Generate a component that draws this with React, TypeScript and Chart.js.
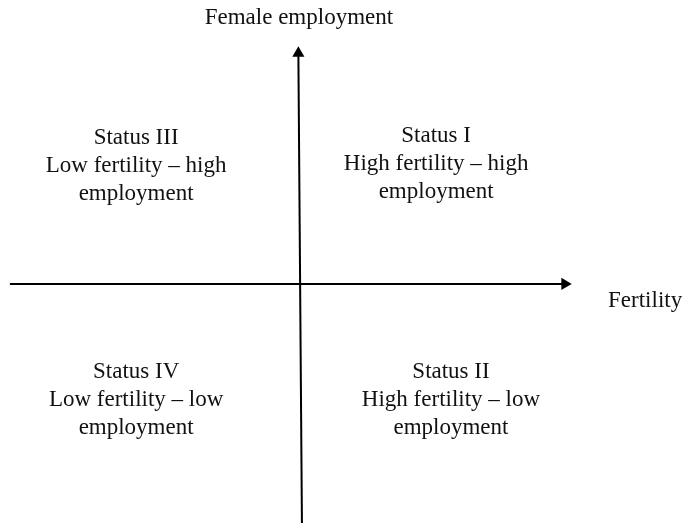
import React, { useEffect, useRef } from "react";
import { Chart, registerables } from "chart.js";

Chart.register(...registerables);

// Axis arrows (conceptual units: crossing at 0,0)
const horizontalAxis = [
  { x: -1.055, y: 0 },
  { x: 0.963, y: 0 },
];
const verticalAxis = [
  { x: 0.007, y: -1.02 },
  { x: -0.006, y: 0.977 },
];

// Quadrant labels
const quadrantLines: string[][] = [
  ["Status I", "High fertility \u2013 high", "employment"],
  ["Status II", "High fertility \u2013 low", "employment"],
  ["Status III", "Low fertility \u2013 high", "employment"],
  ["Status IV", "Low fertility \u2013 low", "employment"],
];
const quadrantX = [0.495, 0.549, -0.596, -0.596];
const quadrantY = [0.51, -0.49, 0.5, -0.49];

const axisLabels = ["Female employment", "Fertility"];
const axisLabelX = [-0.004, 1.255];
const axisLabelY = [1.128, -0.074];

const FONT = '23px "Liberation Serif", "Times New Roman", serif';
const LINE_H = 28;

const textPlugin = {
  id: "diagramText",
  afterDatasetsDraw(chart: any) {
    const { ctx, scales } = chart;
    const xs = scales.x;
    const ys = scales.y;
    ctx.save();
    ctx.font = FONT;
    ctx.fillStyle = "#111";
    ctx.textAlign = "center";
    ctx.textBaseline = "middle";
    quadrantLines.forEach((lines, i) => {
      const cx = xs.getPixelForValue(quadrantX[i]);
      const cy = ys.getPixelForValue(quadrantY[i]);
      lines.forEach((t, j) => {
        ctx.fillText(t, cx, cy + (j - 1) * LINE_H);
      });
    });
    axisLabels.forEach((t, i) => {
      ctx.fillText(t, xs.getPixelForValue(axisLabelX[i]), ys.getPixelForValue(axisLabelY[i]));
    });
    ctx.restore();
  },
};

export default function App() {
  const ref = useRef<HTMLCanvasElement | null>(null);
  useEffect(() => {
    if (!ref.current) return;
    const chart = new Chart(ref.current, {
      type: "scatter",
      data: {
        datasets: [
          {
            data: horizontalAxis,
            showLine: true,
            borderColor: "#000",
            backgroundColor: "#000",
            borderWidth: 2,
            pointRadius: [0, 5],
            pointStyle: "triangle",
            rotation: 90,
            clip: false,
          },
          {
            data: verticalAxis,
            showLine: true,
            borderColor: "#000",
            backgroundColor: "#000",
            borderWidth: 2,
            pointRadius: [0, 5],
            pointStyle: "triangle",
            rotation: 0,
            clip: false,
          },
        ],
      },
      options: {
        responsive: false,
        animation: false,
        layout: { padding: 0, autoPadding: false },
        plugins: {
          legend: { display: false },
          tooltip: { enabled: false },
          title: { display: false },
        },
        scales: {
          x: { type: "linear", min: -1.091, max: 1.4, display: false },
          y: { type: "linear", min: -1.013, max: 1.203, display: false },
        },
      },
      plugins: [textPlugin],
    });
    return () => chart.destroy();
  }, []);
  return (
    <div style={{ position: "fixed", left: 0, top: 0, width: 685, height: 523, background: "#fff" }}>
      <canvas ref={ref} width={685} height={523} style={{ display: "block" }} />
    </div>
  );
}
